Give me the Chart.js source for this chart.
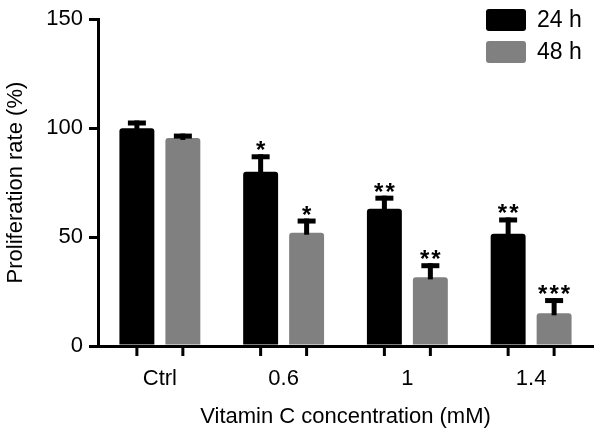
<!DOCTYPE html>
<html lang="en">
<head>
    <meta charset="UTF-8">
    <title>Proliferation rate</title>
    <script src="https://cdn.jsdelivr.net/npm/chart.js"></script>
    <style>
        body { margin: 0; background: #fff; }
        canvas { display: block; }
    </style>
</head>
<body>
    <canvas id="chart" width="602" height="436"></canvas>
    <script>
        // data
        const categories = ['Ctrl', '0.6', '1', '1.4'];
        const rate24 = [100, 80, 63, 51.5];
        const rate48 = [95.5, 52, 31.5, 15];
        const err24 = [3.5, 8, 6, 7.5];
        const err48 = [2, 6.5, 6.5, 7];
        const sig24 = ['', '*', '**', '**'];
        const sig48 = ['', '*', '**', '***'];
        const yTicks = [0, 50, 100, 150];

        const errors = [err24, err48];
        const stars = [sig24, sig48];
        const FONT = 'Liberation Sans, Arial, Helvetica, sans-serif';

        // error bars (upward only), significance stars, x tick marks, legend
        const extras = {
            id: 'extras',
            afterDatasetsDraw(chart) {
                const ctx = chart.ctx;
                const y = chart.scales.y;
                const area = chart.chartArea;
                ctx.save();
                chart.data.datasets.forEach((ds, i) => {
                    const meta = chart.getDatasetMeta(i);
                    meta.data.forEach((bar, j) => {
                        const top = y.getPixelForValue(ds.data[j] + errors[i][j]);
                        ctx.fillStyle = '#000';
                        ctx.fillRect(bar.x - 2.5, top, 5, bar.y - top + 2);
                        ctx.fillRect(bar.x - 9, top, 18, 5);
                        if (stars[i][j]) {
                            ctx.font = 'bold 24px ' + FONT;
                            ctx.letterSpacing = '2px';
                            ctx.textAlign = 'center';
                            ctx.textBaseline = 'alphabetic';
                            ctx.fillText(stars[i][j], bar.x + 1, top + 4);
                            ctx.letterSpacing = '0px';
                        }
                        // tick mark under each bar
                        ctx.fillRect(bar.x - 1.5, area.bottom, 3, 10);
                    });
                });
                // legend
                chart.data.datasets.forEach((ds, i) => {
                    const ly = 9 + i * 32;
                    ctx.fillStyle = ds.backgroundColor;
                    ctx.beginPath();
                    ctx.roundRect(486, ly, 40, 22, 3);
                    ctx.fill();
                    ctx.fillStyle = '#000';
                    ctx.font = '23px ' + FONT;
                    ctx.textAlign = 'left';
                    ctx.textBaseline = 'middle';
                    ctx.fillText(ds.label, 537, ly + 12);
                });
                ctx.restore();
            }
        };

        new Chart(document.getElementById('chart'), {
            type: 'bar',
            data: {
                labels: categories,
                datasets: [
                    { label: '24 h', data: rate24, backgroundColor: '#000000' },
                    { label: '48 h', data: rate48, backgroundColor: '#808080' }
                ]
            },
            options: {
                responsive: false,
                animation: false,
                layout: { padding: { top: 17, right: 9, left: 0, bottom: 0 } },
                categoryPercentage: 0.743,
                barPercentage: 0.76,
                borderRadius: 3,
                borderSkipped: 'bottom',
                plugins: {
                    legend: { display: false },
                    tooltip: { enabled: false }
                },
                scales: {
                    x: {
                        grid: { display: false },
                        border: { display: true, color: '#000', width: 3 },
                        ticks: { color: '#000', font: { family: FONT, size: 22 }, padding: 12 },
                        title: {
                            display: true,
                            text: 'Vitamin C concentration (mM)',
                            color: '#000',
                            font: { family: FONT, size: 22 },
                            padding: { top: 0, bottom: 6 }
                        },
                        afterFit(scale) { scale.height = 90; }
                    },
                    y: {
                        min: 0,
                        max: 150,
                        afterBuildTicks(scale) { scale.ticks = yTicks.map(v => ({ value: v })); },
                        grid: { drawOnChartArea: false, drawTicks: true, tickLength: 9, lineWidth: 3, color: '#000' },
                        border: { display: true, color: '#000', width: 3 },
                        ticks: { color: '#000', font: { family: FONT, size: 22 }, padding: 6 },
                        title: {
                            display: true,
                            text: 'Proliferation rate (%)',
                            color: '#000',
                            font: { family: FONT, size: 22 },
                            padding: { top: 3, bottom: 0 }
                        },
                        afterFit(scale) { scale.width = 98; }
                    }
                }
            },
            plugins: [extras]
        });
    </script>
</body>
</html>
